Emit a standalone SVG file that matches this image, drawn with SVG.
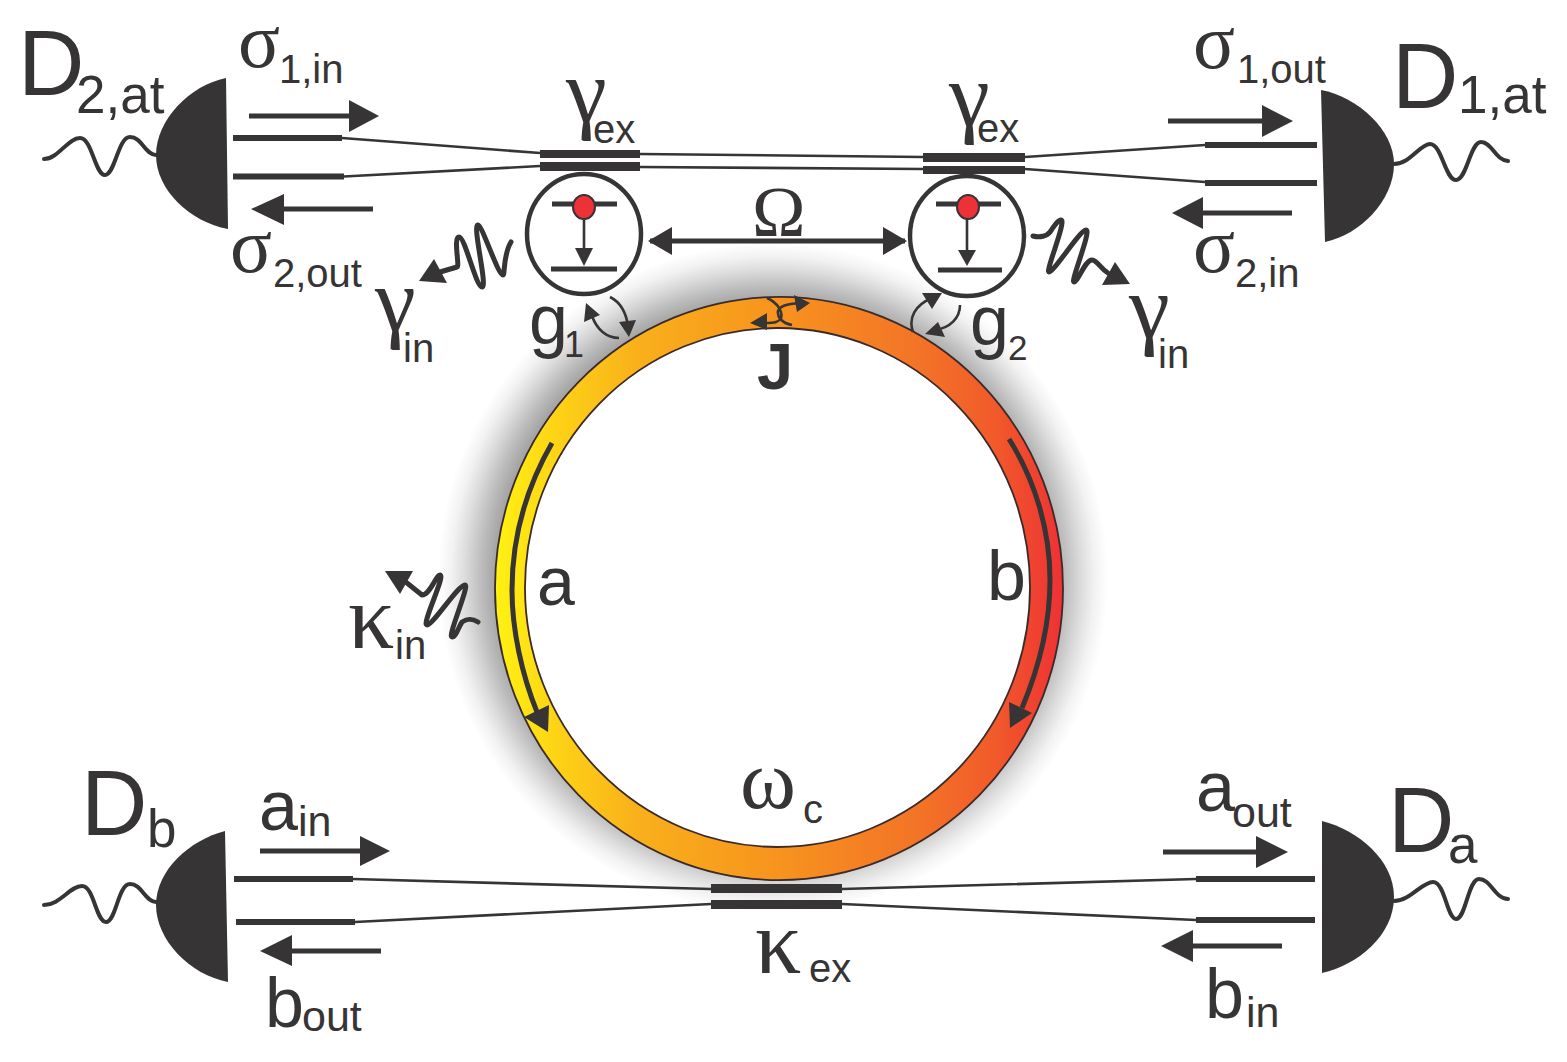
<svg xmlns="http://www.w3.org/2000/svg" width="1567" height="1062" viewBox="0 0 1567 1062">
<style>
text{font-family:"Liberation Sans",Arial,sans-serif;fill:#363435}
.g{font-family:"Liberation Serif","Times New Roman",serif}
.sans{font-family:"Liberation Sans",Arial,sans-serif}
.s40{font-size:40px}
.s43{font-size:43px}
.s53{font-size:53px}
.s70{font-size:70px}
.s92{font-size:92px}
.fill{fill:#363435;stroke:none}
.w{fill:none;stroke:#363435;stroke-width:4;stroke-linecap:round}
.ln{fill:none;stroke:#363435;stroke-width:2.6}
.t{fill:none;stroke:#363435;stroke-width:6}
.a{fill:none;stroke:#363435;stroke-width:5}
.e{fill:none;stroke:#363435;stroke-width:5;stroke-linecap:round;stroke-linejoin:round}
.lvl{stroke:#363435;stroke-width:5}
.atom{fill:#fff;stroke:#363435;stroke-width:4.500}
.dot{fill:#ed3237;stroke:#363435;stroke-width:2}
</style>
<defs>
<linearGradient id="ringGrad" gradientUnits="userSpaceOnUse" x1="495" y1="600" x2="1063" y2="600">
<stop offset="0" stop-color="#fff212"/>
<stop offset="0.12" stop-color="#fdd016"/>
<stop offset="0.25" stop-color="#f9b01b"/>
<stop offset="0.5" stop-color="#f7931e"/>
<stop offset="0.75" stop-color="#f37327"/>
<stop offset="0.88" stop-color="#f15a2a"/>
<stop offset="1" stop-color="#ee3135"/>
</linearGradient>
<radialGradient id="shadow" gradientUnits="userSpaceOnUse" cx="773" cy="578" r="335">
<stop offset="0.83" stop-color="#a5a5a5"/>
<stop offset="0.87" stop-color="#bcbcbc"/>
<stop offset="0.92" stop-color="#dcdcdc"/>
<stop offset="0.96" stop-color="#f2f2f2"/>
<stop offset="1" stop-color="#ffffff"/>
</radialGradient>
</defs>

<g id="ring">
<circle cx="773" cy="578" r="335" fill="url(#shadow)"/>
<ellipse cx="779" cy="588.500" rx="284" ry="291.500" fill="#fff"/>
<path d="M495,588.500a284,291.500 0 1,0 568,0a284,291.500 0 1,0 -568,0ZM525,587.500a252.500,259.500 0 1,1 505,0a252.500,259.500 0 1,1 -505,0Z" fill="url(#ringGrad)" fill-rule="evenodd" stroke="#3a2a2a" stroke-width="1.8"/>
<text x="537" y="605" font-size="68">a</text>
<text x="987" y="600" class="s70">b</text>
<text x="740" y="808" class="g" font-size="85">ω<tspan x="803" y="823" class="s40 sans">c</tspan></text>
<text x="757" y="389" font-size="65" font-weight="bold">J</text>
</g>

<g id="connectors">
<path class="t" d="M233,138H342M233,176.500H344M1205,145H1317M1205,183H1317M234,879H353M236,922H355M1196,879H1315M1196,920H1315"/>
<path class="ln" d="M342,138L540,153M344,176.500L540,166M640,154L923,157M640,167L923,169M1025,157L1205,145M1025,169L1205,182M353,879L711,889M355,922L711,904M842,889L1196,879M842,904L1196,920"/>
<g id="couplers">
<path class="fill" d="M540,150H640V158H540ZM540,162H640V171H540ZM923,153H1025V162H923ZM923,166H1025V174H923ZM711,884H842V893H711ZM711,900H842V909H711Z"/>
</g>
<g id="flow-arrows">
<path class="a" d="M249,116H350M373,209H284M1168,121H1263M1292,213H1203M260,851H361M381,951H292M1163,852H1257M1282,946H1193M650,241H905"/>
<path class="fill" d="M349,100L379,116L349,132ZM284,194L251,209L284,225ZM1262,105L1293,121L1262,137ZM1203,197L1172,213L1203,229ZM360,836L390,851L360,866ZM292,935L260,951L292,966ZM1256,836L1288,852L1256,868ZM1193,930L1161,946L1193,962ZM672,227L648,241L672,255ZM883,227L907,241L883,255Z"/>
</g>
<g id="ring-arrows">
<path class="a" d="M552,443C525,490 512,540 512,590C512,630 522,675 537,712M1009,439C1035,480 1050,530 1050,580C1050,625 1038,670 1022,708"/>
<path class="fill" d="M549,705L524,717L548,732ZM1009,702L1032,713L1010,728Z"/>
</g>
<g id="coupling-arrows">
<path class="ln" d="M592,316C597,330 607,338 619,338M610,297C620,302 626,312 628,326M913,332C908,318 915,305 932,298M960,305C960,318 950,328 935,330M767,298C778,303 783,312 781,318C779,322 775,323 765,323M792,325C782,323 777,317 778,311C780,306 786,304 800,303"/>
<path class="fill" d="M586,303L584,322L600,315ZM629,337L619,322L636,320ZM942,293L922,293L932,309ZM925,334L938,322L945,337ZM750,323L767,313L767,330ZM810,303L794,295L797,312Z"/>
</g>
<g id="emissions">
<path class="e" d="M511,242C503,255 505,275 503,275C498,275 482,225 478,225C472,225 488,287 482,287C476,287 465,237 459,237C453,237 460,267 457,267L440,272"/>
<path class="fill" d="M419,281L434,259L447,283Z"/>
<path class="e" d="M1033,236C1040,238 1047,236 1050,232C1054,226 1058,220 1061,220C1067,220 1045,272 1049,272C1054,272 1080,230 1086,230C1092,230 1070,282 1074,282C1078,282 1085,260 1092,260C1097,260 1100,268 1108,273"/>
<path class="fill" d="M1115,262L1130,284L1102,285Z"/>
<path class="e" d="M478,622C470,617 465,620 462,622C458,628 456,637 452,637C447,637 470,585 465,585C458,585 433,625 427,625C421,625 446,575 440,575C436,575 430,595 422,595L407,583"/>
<path class="fill" d="M385,571L413,571L400,594Z"/>
</g>
</g>

<g id="detector-d2at">
<path class="fill" d="M226,78C190,85 156,120 156,155C156,190 190,222 228,229Z"/>
<path class="w" d="M44,159C58,159 68,138 80,138C92,138 95,175 105,175C115,175 118,137 130,137C142,137 145,155 156,155"/>
<text x="18" y="95" class="s92">D<tspan x="76" y="113" class="s53">2,at</tspan></text>
</g>
<g id="detector-d1at">
<path class="fill" d="M1321,90C1358,97 1394,130 1394,164C1394,200 1360,235 1325,242Z"/>
<path class="w" d="M1394,164C1410,164 1420,144 1430,144C1442,144 1445,180 1456,180C1467,180 1470,142 1481,142C1492,142 1495,160 1508,161"/>
<text x="1392" y="108" class="s92">D<tspan x="1458" y="113" class="s53">1,at</tspan></text>
</g>
<g id="detector-db">
<path class="fill" d="M225,831C190,840 156,870 156,905C156,940 190,975 228,982Z"/>
<path class="w" d="M44,905C60,905 70,886 82,886C94,886 96,922 106,922C116,922 118,884 130,884C142,884 145,902 156,902"/>
<text x="81" y="835" class="s92">D<tspan x="147" y="847" class="s53">b</tspan></text>
</g>
<g id="detector-da">
<path class="fill" d="M1322,821C1358,830 1394,860 1394,897C1394,935 1358,965 1322,973Z"/>
<path class="w" d="M1394,901C1410,901 1422,882 1433,882C1445,882 1447,919 1456,919C1466,919 1468,879 1479,879C1491,879 1495,899 1508,899"/>
<text x="1388" y="852" class="s92">D<tspan x="1448" y="863" class="s53">a</tspan></text>
</g>

<g id="atom-1">
<ellipse class="atom" cx="584" cy="234" rx="57" ry="60"/>
<path class="lvl" d="M552,204H617M551,269H617"/>
<path class="ln" d="M584,219V250"/>
<path class="fill" d="M575,248H593L584,266Z"/>
<ellipse class="dot" cx="584" cy="207" rx="11" ry="12"/>
</g>
<g id="atom-2">
<ellipse class="atom" cx="967" cy="236" rx="57" ry="60"/>
<path class="lvl" d="M936,204H1001M938,270H1002"/>
<path class="ln" d="M967,219V252"/>
<path class="fill" d="M958,250H976L967,266Z"/>
<ellipse class="dot" cx="968" cy="207" rx="11" ry="12"/>
</g>

<g id="labels">
<text x="238" y="67" class="g" font-size="78">σ<tspan x="279" y="83" class="s40 sans">1,in</tspan></text>
<text x="230" y="272" class="g" font-size="78">σ<tspan x="273" y="287" class="s40 sans">2,out</tspan></text>
<text x="1193" y="68" class="g" font-size="78">σ<tspan x="1237" y="83" class="s40 sans">1,out</tspan></text>
<text x="1193" y="272" class="g" font-size="78">σ<tspan x="1235" y="287" class="s40 sans">2,in</tspan></text>
<text x="566" y="122" class="g s92">γ<tspan x="593" y="143" class="s40 sans">ex</tspan></text>
<text x="949" y="126" class="g s92">γ<tspan x="977" y="142" class="s40 sans">ex</tspan></text>
<text x="375" y="331" class="g s92">γ<tspan x="403" y="362" class="s40 sans">in</tspan></text>
<text x="1129" y="338" class="g s92">γ<tspan x="1158" y="368" class="s40 sans">in</tspan></text>
<text x="752" y="236" class="g" font-size="72">Ω</text>
<text x="529" y="344" class="s70">g<tspan x="564" y="357" font-size="36">1</tspan></text>
<text x="970" y="345" class="s70">g<tspan x="1008" y="360" font-size="35">2</tspan></text>
<text x="348" y="648" class="g s92">κ<tspan x="395" y="659" class="s40 sans">in</tspan></text>
<text x="755" y="973" class="g s92">κ<tspan x="809" y="982" class="s40 sans">ex</tspan></text>
<text x="259" y="830" class="s70">a<tspan x="298" y="836" class="s43">in</tspan></text>
<text x="265" y="1027" class="s70">b<tspan x="302" y="1031" class="s43">out</tspan></text>
<text x="1196" y="811" class="s70">a<tspan x="1232" y="827" class="s43">out</tspan></text>
<text x="1205" y="1018" class="s70">b<tspan x="1246" y="1027" class="s43">in</tspan></text>
</g>
</svg>
